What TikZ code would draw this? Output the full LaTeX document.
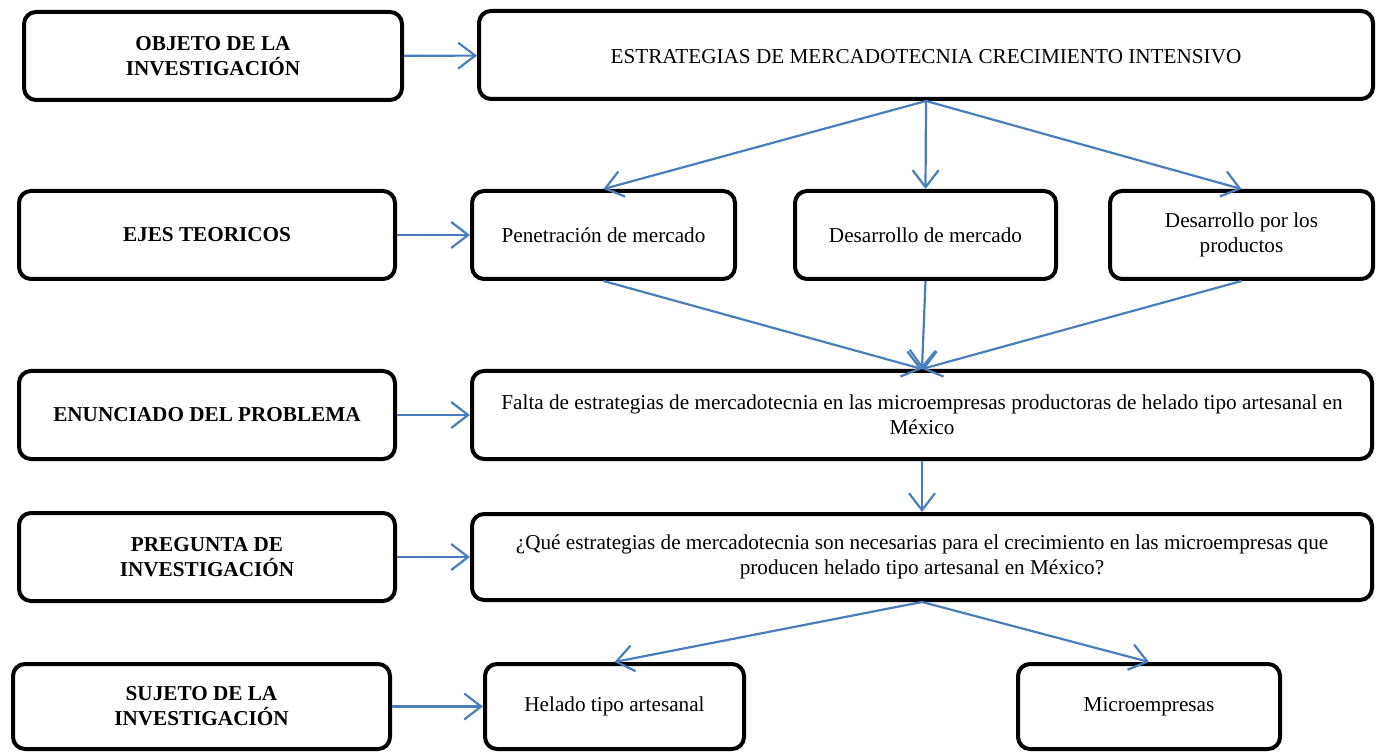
\documentclass[tikz,border=0pt]{standalone}
\usepackage{fontspec}
\setmainfont{Liberation Serif}
\usetikzlibrary{arrows.meta}
\definecolor{azul}{RGB}{74,126,187}

\begin{document}
\begin{tikzpicture}[x=0.5pt,y=-0.5pt,
  caja/.style={draw,line width=2pt,rounded corners=6pt,align=center,inner sep=2pt,
    minimum height=44pt,font=\fontsize{10.6}{12.5}\selectfont},
  titulo/.style={caja,font=\fontsize{10.6}{12.5}\selectfont\bfseries},
  flecha/.style={azul,line width=1.1pt,-{Straight Barb[length=8.5pt,width=13pt]}}]
\useasboundingbox (0,0) rectangle (1381,753);
\node (obj) at (213,56) [titulo,minimum width=189pt] {OBJETO DE LA\\INVESTIGACIÓN};
\node (est) at (926,55) [caja,minimum width=447pt,text height=9pt] {ESTRATEGIAS DE MERCADOTECNIA CRECIMIENTO INTENSIVO};
\node (ejes) at (207,235) [titulo,minimum width=188pt] {EJES TEORICOS};
\node (pen) at (603.5,235) [caja,minimum width=131.5pt] {Penetración de mercado};
\node (desm) at (925.5,235) [caja,minimum width=130.5pt] {Desarrollo de mercado};
\node (desp) at (1241.5,235) [caja,minimum width=131.5pt] {Desarrollo por los\\productos};
\node (enun) at (207,415) [titulo,minimum width=188pt] {ENUNCIADO DEL PROBLEMA};
\node (falta) at (922,415) [caja,minimum width=450pt] {Falta de estrategias de mercadotecnia en las microempresas productoras de helado tipo artesanal en\\México};
\node (preg) at (207,557) [titulo,minimum width=188pt] {PREGUNTA DE\\INVESTIGACIÓN};
\node (que) at (922,557) [caja,minimum width=450pt,minimum height=43pt] {¿Qué estrategias de mercadotecnia son necesarias para el crecimiento en las microempresas que\\producen helado tipo artesanal en México?};
\node (suj) at (201.5,706.5) [titulo,minimum width=188.5pt,minimum height=42.5pt] {SUJETO DE LA\\INVESTIGACIÓN};
\node (hel) at (614.5,706.5) [caja,minimum width=129.5pt,minimum height=42.5pt] {Helado tipo artesanal};
\node (mic) at (1149,706.5) [caja,minimum width=131pt,minimum height=42.5pt] {Microempresas};
\path
(obj) edge [flecha] (est)
(ejes) edge [flecha] (pen)
(enun) edge [flecha] (falta)
(preg) edge [flecha] (que)
(suj) edge [flecha] (hel)
(est.south) edge [flecha] (pen.north)
(est.south) edge [flecha] (desm.north)
(est.south) edge [flecha] (desp.north)
(pen.south) edge [flecha] (falta.north)
(desm.south) edge [flecha] (falta.north)
(desp.south) edge [flecha] (falta.north)
(falta.south) edge [flecha] (que.north)
(que.south) edge [flecha] (hel.north)
(que.south) edge [flecha] (mic.north);
\end{tikzpicture}
\end{document}
